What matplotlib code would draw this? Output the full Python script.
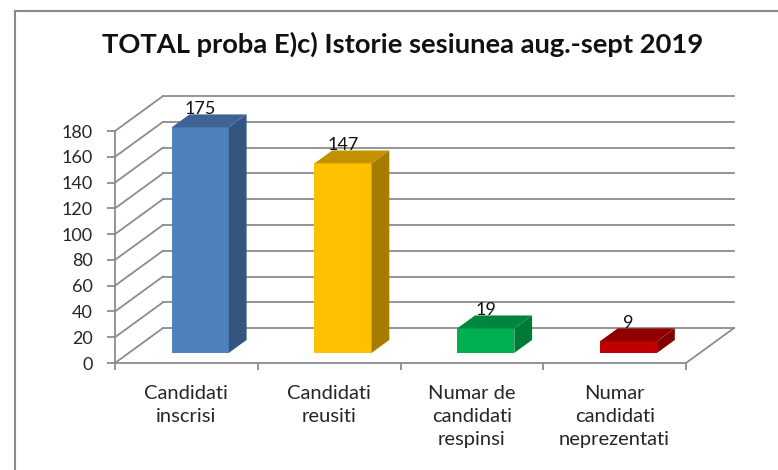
import matplotlib.pyplot as plt
from matplotlib.lines import Line2D

plt.rcParams['font.family'] = ['Lato', 'DejaVu Sans']

# date din grafic
categorii = ['Candidati\ninscrisi', 'Candidati\nreusiti',
             'Numar de\ncandidati\nrespinsi', 'Numar\ncandidati\nneprezentati']
valori = [175, 147, 19, 9]
culori_fata = ['#4F81BD', '#FFC000', '#00B050', '#C00000']
culori_lateral = ['#34557F', '#A67C00', '#007A37', '#820000']
culori_sus = ['#3E6496', '#C29200', '#00853F', '#900000']
y_ticks = list(range(0, 181, 20))
titlu = 'TOTAL proba E)c) Istorie sesiunea aug.-sept 2019'

# adancimea "3D" in unitati de date
DX = 0.336
DY = 27.1
d0, d1 = 0.29, 0.66
latime = 0.4
gri = '#8C8C8C'

fig = plt.figure(figsize=(7.78, 4.70), dpi=100)
ax = fig.add_axes([115 / 778, 107 / 470, 571 / 778, 232 / 470])
ax.set_xlim(0, 4)
ax.set_ylim(0, 180)
ax.patch.set_visible(False)

# perete spate + perete lateral
for v in y_ticks:
    ax.plot([DX, 4 + DX], [v + DY, v + DY], color=gri, lw=1.3, clip_on=False, zorder=1)
    ax.plot([0, DX], [v, v + DY], color=gri, lw=1.3, clip_on=False, zorder=1)
ax.plot([4, 4 + DX], [0, DY], color=gri, lw=1.3, clip_on=False, zorder=1)

# bare
for i, v in enumerate(valori):
    x0 = i + 0.5 - latime / 2 + d0 * DX
    y0 = d0 * DY
    ax.bar(x0 + latime / 2, v, width=latime, bottom=y0, color=culori_fata[i],
           zorder=3, clip_on=False)
    ddx = (d1 - d0) * DX
    ddy = (d1 - d0) * DY
    x1 = x0 + latime
    ax.fill([x1, x1 + ddx, x1 + ddx, x1], [y0, y0 + ddy, y0 + v + ddy, y0 + v],
            color=culori_lateral[i], zorder=3, clip_on=False, lw=0)
    ax.fill([x0, x1, x1 + ddx, x0 + ddx], [y0 + v, y0 + v, y0 + v + ddy, y0 + v + ddy],
            color=culori_sus[i], zorder=3, clip_on=False, lw=0)
    ax.text(x0 + latime / 2, y0 + v + ddy - 2, str(v), ha='center', va='bottom',
            fontsize=13, color='#111111', zorder=4)

for s in ['top', 'right']:
    ax.spines[s].set_visible(False)
for s in ['left', 'bottom']:
    ax.spines[s].set_color(gri)
    ax.spines[s].set_linewidth(1.3)

ax.set_yticks(y_ticks)
ax.tick_params(axis='y', length=6, width=1.3, color=gri, pad=10,
               labelsize=13, labelcolor='#262626')
ax.set_xticks([0, 1, 2, 3, 4])
ax.set_xticklabels([])
ax.set_xticks([0.5, 1.5, 2.5, 3.5], minor=True)
ax.set_xticklabels(categorii, minor=True, fontsize=14.5, color='#262626', linespacing=1.42)
ax.tick_params(axis='x', which='major', length=5, width=1.3, color=gri)
ax.tick_params(axis='x', which='minor', length=0, pad=16)

fig.text(403 / 778, 1 - 53 / 470, titlu, ha='center', va='baseline',
         fontsize=19.7, fontweight='bold', color='#111111')

# chenar
fig.add_artist(Line2D([15 / 778, 15 / 778], [0, 1 - 11 / 470], color='#8A8A8A', lw=1.5))
fig.add_artist(Line2D([15 / 778, 1], [1 - 11 / 470, 1 - 11 / 470], color='#8A8A8A', lw=1.5))

fig.savefig('out.png', dpi=100)
